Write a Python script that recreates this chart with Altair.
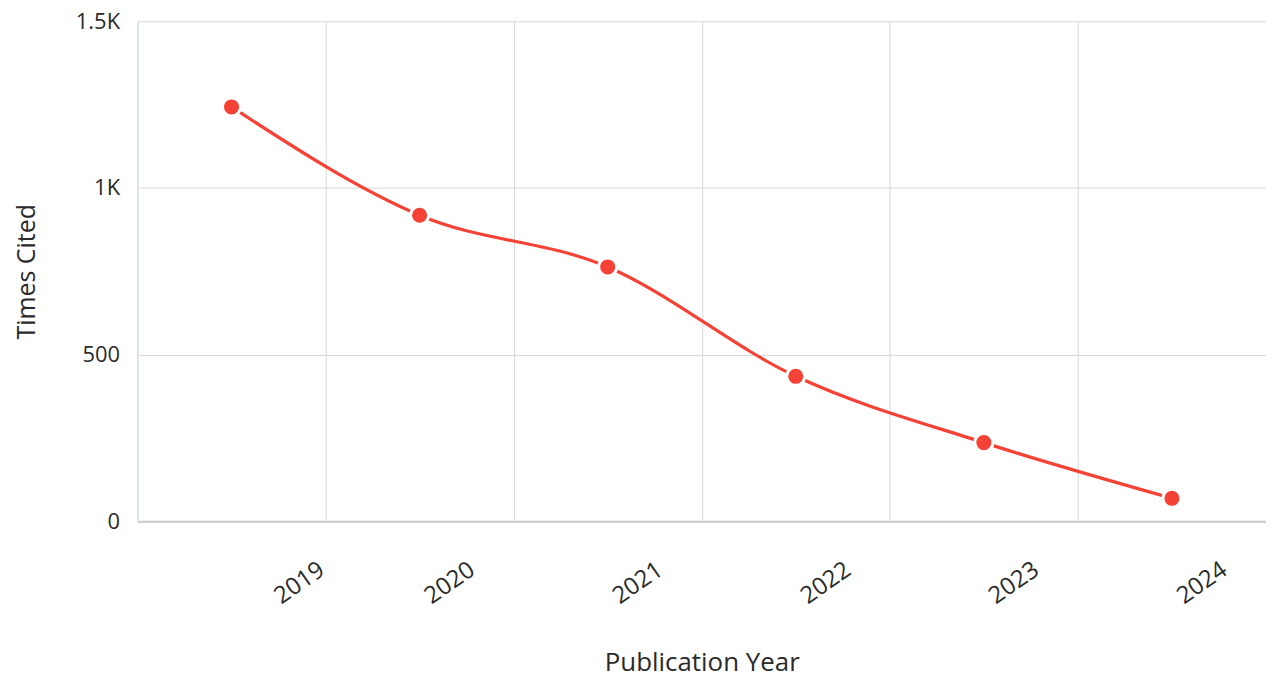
import altair as alt
import pandas as pd

years = [2019, 2020, 2021, 2022, 2023, 2024]
times_cited = [1243, 918, 763, 435, 236, 69]
x_ticks = [2019, 2020, 2021, 2022, 2023, 2024]
y_ticks = [0, 500, 1000, 1500]

df = pd.DataFrame({"year": years, "cited": times_cited})

FONT = "Open Sans"
RED = "#f44336"
TXT = "#2a2a2a"

x_enc = alt.X(
    "xpos:Q",
    scale=alt.Scale(domain=[2018, 2024], nice=False, zero=False),
    axis=alt.Axis(
        values=x_ticks,
        format="d",
        title="Publication Year",
        labelAngle=-35,
        labelAlign="right",
        labelBaseline="middle",
        labelPadding=46,
        labelOffset={"expr": "datum.value == 2019 ? -4 : -42"},
        ticks=False,
        grid=True,
        gridColor="#d9d9d9",
        gridWidth=1,
        domainColor="#c8c8c8",
        domainWidth=2,
        labelFont=FONT,
        labelFontSize=24,
        labelColor=TXT,
        titleFont=FONT,
        titleFontSize=26,
        titleFontWeight="normal",
        titleColor=TXT,
        titleBaseline="middle",
        titleY=142,
    ),
)

y_enc = alt.Y(
    "cited:Q",
    scale=alt.Scale(domain=[0, 1500], nice=False),
    axis=alt.Axis(
        values=y_ticks,
        labelExpr="datum.value >= 1000 ? format(datum.value/1000, '~g') + 'K' : format(datum.value, 'd')",
        title="Times Cited",
        ticks=False,
        grid=True,
        gridColor="#d9d9d9",
        gridWidth=1,
        domainColor="#dde4ee",
        domainWidth=2,
        labelPadding=18,
        labelFont=FONT,
        labelFontSize=22,
        labelColor=TXT,
        titleFont=FONT,
        titleFontSize=25,
        titleFontWeight="normal",
        titleColor=TXT,
        titleBaseline="middle",
        titleX=-111,
    ),
)

base = alt.Chart(df).transform_calculate(xpos="datum.year - 0.5")

line = base.mark_line(color=RED, strokeWidth=3.2, interpolate="monotone").encode(x=x_enc, y=y_enc)
points = base.mark_point(
    filled=True, color=RED, size=330, opacity=1, stroke="white", strokeWidth=3, strokeOpacity=1
).encode(x=x_enc, y=y_enc)

chart = (
    alt.layer(line, points)
    .properties(
        width=1133,
        height=502,
        autosize=alt.AutoSizeParams(type="none"),
        padding={"left": 130, "top": 12, "right": 0, "bottom": 156},
        background="white",
    )
    .configure_view(stroke=None)
)

chart.save("out.html", embed_options={"renderer": "svg", "actions": False})
